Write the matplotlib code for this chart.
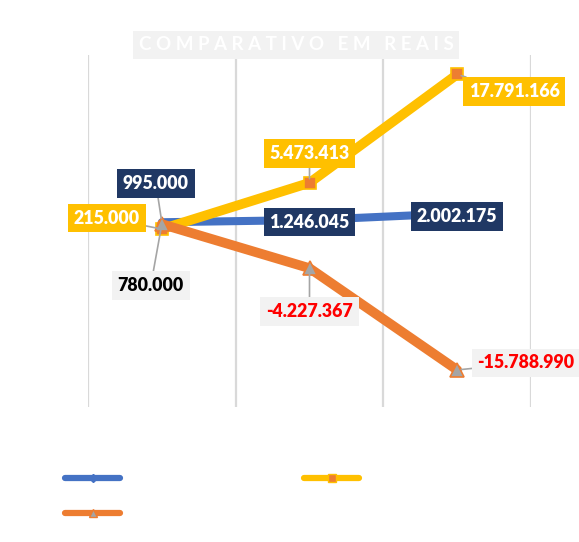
import matplotlib.pyplot as plt
from matplotlib.lines import Line2D

plt.rcParams['font.family'] = ['Lato', 'DejaVu Sans']

periods = ["P1", "P2", "P3"]
blue_vals = [995000, 1246045, 2002175]
yellow_vals = [215000, 5473413, 17791166]
orange_vals = [780000, -4227367, -15788990]

blue_labels = ["995.000", "1.246.045", "2.002.175"]
yellow_labels = ["215.000", "5.473.413", "17.791.166"]
orange_labels = ["780.000", "-4.227.367", "-15.788.990"]

BLUE = "#4472C4"
YELLOW = "#FFC000"
ORANGE = "#ED7D31"
GRAY = "#A5A5A5"
NAVY = "#203864"

fig = plt.figure(figsize=(5.79, 5.42), dpi=100)
ax = fig.add_axes([88 / 579, 1 - 407 / 542, (531 - 88) / 579, (407 - 55) / 542])

x = list(range(len(periods)))
ax.plot(x, blue_vals, color=BLUE, lw=5.8, marker="D", ms=4, mfc=BLUE, mec=BLUE,
        solid_capstyle="round", zorder=2)
ax.plot(x, yellow_vals, color=YELLOW, lw=7, marker="s", ms=8, mfc=ORANGE, mec=YELLOW,
        mew=1.2, solid_capstyle="round", zorder=3)
ax.plot(x, orange_vals, color=ORANGE, lw=7, marker="^", ms=10, mfc=GRAY, mec=ORANGE,
        mew=1.2, solid_capstyle="round", zorder=4)

ax.set_xlim(-0.5, 2.5)
ax.set_ylim(-20e6, 20e6)
for gx in [-0.5, 0.5, 1.5, 2.5]:
    ax.axvline(gx, color="#d9d9d9", lw=1.6, zorder=0)
ax.set_xticks([])
ax.set_yticks([])
for s in ax.spines.values():
    s.set_visible(False)
ax.patch.set_alpha(0)

# label offsets in pixels (dx, dy up)
blue_off = [(-6, 39), (0, -2), (0, -3)]
yellow_off = [(-55, 11), (0, 29), (57, -17)]
orange_off = [(-11, -61), (0, -43), (69, 7)]
k = 0.72


def put(vals, labels, offs, fc, tc_list):
    for i, (v, lab, off) in enumerate(zip(vals, labels, offs)):
        ax.annotate(lab, (i, v), xytext=(off[0] * k, off[1] * k), textcoords="offset points",
                    ha="center", va="center", fontsize=12.8, fontweight="heavy", color=tc_list[i],
                    bbox=dict(boxstyle="square,pad=0.33", fc=fc, ec="none"),
                    arrowprops=dict(arrowstyle="-", color=GRAY, lw=1.2, shrinkA=0, shrinkB=3),
                    zorder=6)


put(blue_vals, blue_labels, blue_off, NAVY, ["white"] * 3)
put(yellow_vals, yellow_labels, yellow_off, YELLOW, ["white"] * 3)
put(orange_vals, orange_labels, orange_off, "#F2F2F2", ["black", "#FF0000", "#FF0000"])

fig.text(296 / 579, 1 - 45 / 542, "C O M P A R A T I V O   E M   R E A I S", ha="center", va="center",
         fontsize=13.5, color="white", fontweight="bold",
         bbox=dict(boxstyle="square,pad=0.3", fc="#F2F2F2", ec="none"))

handles = [
    Line2D([], [], color=BLUE, lw=4.5, marker="D", ms=4, solid_capstyle="round"),
    Line2D([], [], color=ORANGE, lw=4.5, marker="^", ms=6, mfc=GRAY, mec=ORANGE, solid_capstyle="round"),
    Line2D([], [], color=YELLOW, lw=4.5, marker="s", ms=6, mfc=ORANGE, mec=YELLOW, solid_capstyle="round"),
]
fig.legend(handles, [" ", " ", " "], ncol=2, loc="upper left", bbox_to_anchor=(50 / 579, 1 - 456 / 542),
           frameon=False, handlelength=3.3, columnspacing=10.5, labelspacing=1.1, fontsize=12,
           handletextpad=0.3)

fig.savefig("out.png", dpi=100)
